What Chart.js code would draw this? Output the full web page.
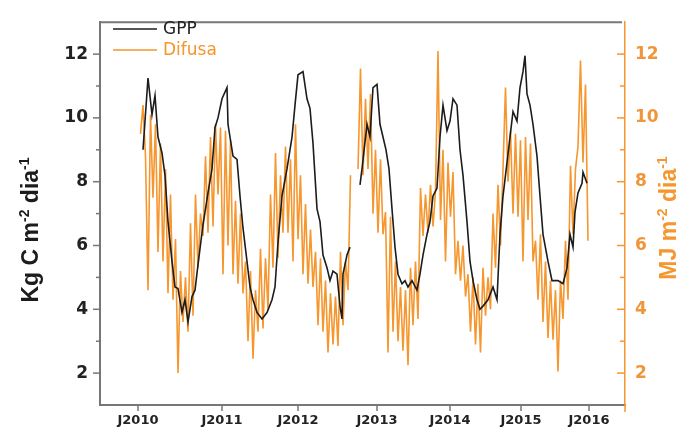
<!DOCTYPE html>
<html><head><meta charset="utf-8">
<script src="https://cdn.jsdelivr.net/npm/chart.js@4.4.1/dist/chart.umd.min.js"></script>
<style>html,body{margin:0;padding:0;background:#fff}#wrap{width:685px;height:430px}</style>
</head><body><div id="wrap"><canvas id="c" width="685" height="430"></canvas></div>
<script>
// ---------- data (x = time index, ~15 units per year) ----------
const seriesNames = ['GPP', 'Difusa'];
const xTickLabels = ['J2010', 'J2011', 'J2012', 'J2013', 'J2014', 'J2015', 'J2016'];
const xTickPos = [0, 16.8, 32, 47.8, 62.4, 76.6, 90.2];
const yTicks = [2, 4, 6, 8, 10, 12];
const yMinor = [3, 5, 7, 9, 11];

const gppX = [1.0, 2.0, 2.8, 3.4, 4.0, 4.8, 5.4, 6.0, 6.8, 7.4, 8.0, 8.8, 9.4, 10.0, 10.8, 11.4, 12.0, 13.0, 14.0, 14.8,
  15.4, 16.0, 16.8, 17.8, 18.0, 19.0, 19.8, 20.4, 21.0, 21.8, 22.4, 23.0, 23.8, 24.8, 25.8, 26.8, 27.4, 28.0, 28.8, 29.8,
  30.8, 31.4, 32.0, 33.0, 33.8, 34.4, 35.0, 35.8, 36.4, 37.0, 37.8, 38.4, 39.0, 39.8, 40.4, 40.8, 41.0, 41.8, 42.4, 43.2,
  44.4, 44.8, 45.8, 46.4, 47.0, 47.8, 48.4, 49.0, 49.6, 50.2, 50.8, 51.4, 52.0, 52.8, 53.4, 54.0, 54.8, 55.8, 56.4, 57.0,
  57.8, 58.4, 59.0, 59.8, 60.4, 61.0, 61.8, 62.4, 63.0, 63.8, 64.4, 65.0, 65.8, 66.4, 67.0, 67.8, 68.4, 69.0, 70.0, 71.0,
  71.8, 72.4, 73.0, 73.8, 74.4, 75.0, 75.8, 76.4, 77.0, 77.4, 77.8, 78.4, 79.0, 79.8, 80.4, 81.0, 82.0, 82.8, 84.0, 85.0,
  85.8, 86.4, 87.0, 87.4, 88.0, 88.8, 89.0, 89.8];
const gppY = [9.0, 11.25, 10.1, 10.7, 9.4, 8.9, 8.2, 6.75, 5.5, 4.7, 4.65, 3.9, 4.3, 3.6, 4.4, 4.6, 5.4, 6.65, 7.65, 8.4,
  9.7, 10.0, 10.6, 10.95, 9.8, 8.8, 8.7, 7.55, 6.55, 5.5, 4.7, 4.3, 3.9, 3.7, 3.9, 4.3, 4.7, 6.1, 7.55, 8.4,
  9.4, 10.4, 11.35, 11.45, 10.6, 10.3, 9.2, 7.15, 6.75, 5.7, 5.3, 4.9, 5.2, 5.1, 4.1, 3.7, 5.1, 5.7, 5.95, null,
  7.9, 8.4, 9.8, 9.4, 10.95, 11.05, 9.8, 9.4, 9.0, 8.4, 7.15, 5.95, 5.1, 4.8, 4.9, 4.7, 4.9, 4.6, 5.1, 5.7,
  6.35, 6.75, 7.55, 7.8, 9.4, 10.4, 9.6, 9.9, 10.6, 10.4, 9.0, 8.2, 6.75, 5.5, 4.9, 4.3, 4.0, 4.1, 4.3, 4.7,
  4.3, 6.35, 7.55, 8.6, 9.4, 10.2, 9.9, 10.95, 11.45, 11.95, 10.75, 10.4, 9.8, 8.8, 7.55, 6.35, 5.5, 4.9, 4.9, 4.8,
  5.3, 6.35, 5.95, 7.05, 7.65, 7.95, 8.3, 7.95];

// Difusa sampled regularly: first sample at index 0.5, one sample every 0.5
const difStart = 0.5, difStep = 0.5;
const difY = [
  9.5, 10.4, 8.8, 4.6, 10.1, 7.5, 9.8, 5.8, 9.2, 5.5,
  8.4, 4.5, 7.6, 4.3, 6.2, 2.0, 5.2, 3.6, 5.0, 3.3,
  6.7, 3.8, 7.6, 5.3, 7.0, 6.3, 8.8, 6.4, 9.4, 6.6,
  9.8, 7.6, 9.7, 5.1, 9.6, 6.0, 9.3, 5.1, 7.4, 4.8,
  7.0, 4.5, 5.5, 3.0, 5.2, 2.45, 4.6, 3.3, 5.9, 3.4,
  5.6, 4.0, 7.6, 5.3, 8.9, 5.6, 8.2, 6.4, 9.1, 6.4,
  8.7, 5.5, 9.8, 6.2, 8.2, 5.1, 7.3, 4.8, 6.5, 4.7,
  5.8, 3.5, 5.6, 3.3, 4.9, 2.65, 4.5, 2.9, 4.4, 2.85,
  5.8, 3.5, 5.5, 4.6, 8.2, null, null, 8.4, 11.55, 8.2,
  10.6, 8.4, 10.75, 7.0, 9.0, 6.4, 8.7, 6.35, 7.05, 2.65,
  6.9, 3.3, 5.5, 3.0, 4.7, 2.7, 4.6, 2.25, 5.3, 3.5,
  5.5, 3.7, 7.8, 6.3, 7.6, 6.4, 7.9, 6.6, 7.7, 12.1,
  6.8, 9.0, 5.5, 8.6, 6.9, 8.3, 5.1, 6.15, 4.9, 6.0,
  4.4, 5.1, 3.3, 5.0, 2.9, 4.8, 2.65, 5.3, 3.8, 5.0,
  4.0, 7.0, 5.3, 7.9, 6.0, 8.4, 10.95, 8.0, 9.6, 7.0,
  9.5, 6.9, 9.3, 5.5, 9.4, 6.8, 9.2, 5.5, 6.15, 4.3,
  6.35, 3.6, 5.5, 3.1, 4.9, 3.05, 4.6, 2.05, 4.9, 3.7,
  6.15, 4.3, 8.5, 6.35, 8.4, 9.1, 11.8, 8.6, 11.05, 6.15];

// ---------- styling ----------
const BLACK = '#1c1c1c';
const ORANGE = '#f5962e';
const AXIS = '#777777';

const gppData = gppX.map((x, i) => ({ x: x, y: gppY[i] }));
const difData = difY.map((y, i) => ({ x: difStart + difStep * i, y: y }));

function drawSupText(ctx, parts, cx, cy, color) {
  const big = 'bold 23px "Liberation Sans", Arial, sans-serif';
  const small = 'bold 14px "Liberation Sans", Arial, sans-serif';
  let w = 0;
  parts.forEach(p => { ctx.font = p[1] ? small : big; w += ctx.measureText(p[0]).width; });
  ctx.save();
  ctx.translate(cx, cy);
  ctx.rotate(-Math.PI / 2);
  ctx.fillStyle = color;
  ctx.textBaseline = 'alphabetic';
  let x = -w / 2;
  parts.forEach(p => {
    ctx.font = p[1] ? small : big;
    ctx.fillText(p[0], x, p[1] ? -1 : 8);
    x += ctx.measureText(p[0]).width;
  });
  ctx.restore();
}

const deco = {
  id: 'deco',
  afterDraw(chart) {
    const { ctx, chartArea: a, scales } = chart;
    const yl = scales.y, xs = scales.x;
    ctx.save();
    const seg = (x1, y1, x2, y2) => { ctx.beginPath(); ctx.moveTo(x1, y1); ctx.lineTo(x2, y2); ctx.stroke(); };
    ctx.strokeStyle = AXIS; ctx.lineWidth = 2;
    seg(a.left - 1, a.top, a.right - 3, a.top);
    ctx.lineWidth = 1.5;
    yTicks.forEach(v => { const p = yl.getPixelForValue(v); seg(a.left - 7, p, a.left, p); });
    yMinor.forEach(v => { const p = yl.getPixelForValue(v); seg(a.left - 4, p, a.left, p); });
    xTickPos.forEach(v => { const p = xs.getPixelForValue(v); seg(p, a.bottom, p, a.bottom + 6); });
    ctx.strokeStyle = ORANGE;
    yTicks.forEach(v => { const p = yl.getPixelForValue(v); seg(a.right - 8, p, a.right, p); });
    yMinor.forEach(v => { const p = yl.getPixelForValue(v); seg(a.right - 5, p, a.right, p); });
    seg(a.right, a.bottom, a.right, a.bottom + 7);
    drawSupText(ctx, [['Kg C m', 0], ['-2', 1], [' dia', 0], ['-1', 1]], 30, 230, BLACK);
    drawSupText(ctx, [['MJ m', 0], ['-2', 1], [' dia', 0], ['-1', 1]], 668, 218, ORANGE);
    const lx = a.left + 13;
    const items = [[seriesNames[0], BLACK, '#222', 29], [seriesNames[1], ORANGE, ORANGE, 50]];
    ctx.font = '17px "DejaVu Sans", sans-serif';
    ctx.textBaseline = 'middle';
    items.forEach(it => {
      ctx.strokeStyle = it[1]; ctx.lineWidth = 1.6;
      seg(lx, it[3], lx + 44, it[3]);
      ctx.fillStyle = it[2];
      ctx.fillText(it[0], lx + 50, it[3] + 1);
    });
    ctx.restore();
  }
};

new Chart(document.getElementById('c'), {
  type: 'line',
  data: {
    datasets: [
      { label: seriesNames[0], data: gppData, yAxisID: 'y', borderColor: BLACK, borderWidth: 1.6, pointRadius: 0, spanGaps: false, order: 0 },
      { label: seriesNames[1], data: difData, yAxisID: 'y2', borderColor: ORANGE, borderWidth: 1.6, pointRadius: 0, spanGaps: false, order: 1 }
    ]
  },
  options: {
    responsive: false,
    animation: false,
    devicePixelRatio: 1,
    layout: { padding: { top: 14, left: 0, right: 0, bottom: 0 } },
    plugins: { legend: { display: false }, tooltip: { enabled: false } },
    elements: { line: { tension: 0 }, point: { radius: 0 } },
    scales: {
      x: {
        type: 'linear', min: -7.6, max: 97.4,
        afterBuildTicks: s => { s.ticks = xTickPos.map(v => ({ value: v })); },
        afterFit: s => { s.height = 25; },
        grid: { display: false, drawTicks: false },
        border: { display: true, color: AXIS, width: 2 },
        ticks: {
          autoSkip: false, maxRotation: 0, padding: 8, color: '#222',
          font: { family: '"DejaVu Sans", sans-serif', weight: 'bold', size: 13 },
          callback: (v, i) => xTickLabels[i]
        }
      },
      y: {
        position: 'left', min: 1, max: 13,
        afterBuildTicks: s => { s.ticks = yTicks.map(v => ({ value: v })); },
        afterFit: s => { s.width = 100; },
        grid: { display: false, drawTicks: false },
        border: { display: true, color: AXIS, width: 2 },
        ticks: { padding: 12, color: '#222', font: { family: '"DejaVu Sans", sans-serif', weight: 'bold', size: 17 } }
      },
      y2: {
        position: 'right', min: 1, max: 13,
        afterBuildTicks: s => { s.ticks = yTicks.map(v => ({ value: v })); },
        afterFit: s => { s.width = 60; },
        grid: { display: false, drawTicks: false },
        border: { display: true, color: ORANGE, width: 1.5 },
        ticks: { padding: 10, color: '#f0953a', font: { family: '"DejaVu Sans", sans-serif', weight: 'bold', size: 17 } }
      }
    }
  },
  plugins: [deco]
});
</script>
</body></html>
